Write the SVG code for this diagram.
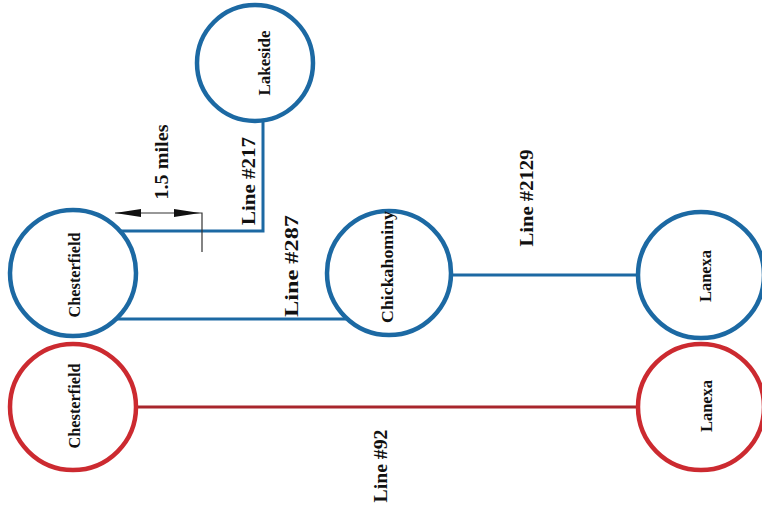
<svg xmlns="http://www.w3.org/2000/svg" width="762" height="517" viewBox="0 0 762 517">
<defs>
<style>
.nb{fill:#fff;stroke:#1c69a3;stroke-width:4.5}
.nr{fill:#fff;stroke:#cc2a30;stroke-width:4.5}
.cb{fill:none;stroke:#1c69a3;stroke-width:3}
.cr{fill:none;stroke:#a8262c;stroke-width:3}
.lbl{font-family:"Liberation Serif","Times New Roman",serif;font-weight:bold;font-size:16px;fill:#111;text-anchor:middle}
.ll{font-family:"Liberation Serif","Times New Roman",serif;font-weight:bold;font-size:19px;fill:#111;text-anchor:middle}
</style>
<marker id="arr" viewBox="0 0 26 10" refX="26" refY="5" markerWidth="26" markerHeight="10" markerUnits="userSpaceOnUse" orient="auto-start-reverse">
<path d="M0,1 L26,5 L0,9 Z" fill="#111"/>
</marker>
</defs>
<rect width="762" height="517" fill="#fff"/>
<g id="connectors">
<polyline class="cb" points="120,231 263,231 263,122"/>
<line class="cb" x1="117" y1="319" x2="346" y2="319"/>
<line class="cb" x1="451" y1="275" x2="639" y2="275"/>
<line class="cr" x1="137" y1="407" x2="638" y2="407"/>
<line x1="115" y1="213" x2="200" y2="213" stroke="#333" stroke-width="1.2" marker-start="url(#arr)" marker-end="url(#arr)"/>
<polyline points="200,213 202,213 202,252" fill="none" stroke="#333" stroke-width="1.2"/>
<text class="ll" transform="translate(255,181) rotate(-90)" textLength="88" lengthAdjust="spacingAndGlyphs">Line #217</text>
<text class="ll" transform="translate(168,162) rotate(-90)" textLength="75" lengthAdjust="spacingAndGlyphs">1.5 miles</text>
<text class="ll" transform="translate(298,266) rotate(-90)" textLength="102" lengthAdjust="spacingAndGlyphs">Line #287</text>
<text class="ll" transform="translate(533,198) rotate(-90)" textLength="97" lengthAdjust="spacingAndGlyphs">Line #2129</text>
<text class="ll" transform="translate(387,466) rotate(-90)" textLength="73" lengthAdjust="spacingAndGlyphs">Line #92</text>
</g>
<g id="lakeside">
<circle class="nb" cx="255" cy="63" r="58"/>
<text class="lbl" transform="translate(270,63) rotate(-90)" textLength="65" lengthAdjust="spacingAndGlyphs">Lakeside</text>
</g>
<g id="chesterfield-blue">
<circle class="nb" cx="73" cy="273" r="63"/>
<text class="lbl" transform="translate(80,275) rotate(-90)" textLength="85" lengthAdjust="spacingAndGlyphs">Chesterfield</text>
</g>
<g id="chickahominy">
<circle class="nb" cx="389" cy="273" r="62"/>
<text class="lbl" transform="translate(393,267) rotate(-90)" textLength="112" lengthAdjust="spacingAndGlyphs">Chickahominy</text>
</g>
<g id="lanexa-blue">
<circle class="nb" cx="701" cy="275" r="63"/>
<text class="lbl" transform="translate(711,276) rotate(-90)" textLength="52" lengthAdjust="spacingAndGlyphs">Lanexa</text>
</g>
<g id="chesterfield-red">
<circle class="nr" cx="73" cy="407" r="63"/>
<text class="lbl" transform="translate(80,406) rotate(-90)" textLength="85" lengthAdjust="spacingAndGlyphs">Chesterfield</text>
</g>
<g id="lanexa-red">
<circle class="nr" cx="701" cy="407" r="63"/>
<text class="lbl" transform="translate(712,406) rotate(-90)" textLength="52" lengthAdjust="spacingAndGlyphs">Lanexa</text>
</g>
</svg>
